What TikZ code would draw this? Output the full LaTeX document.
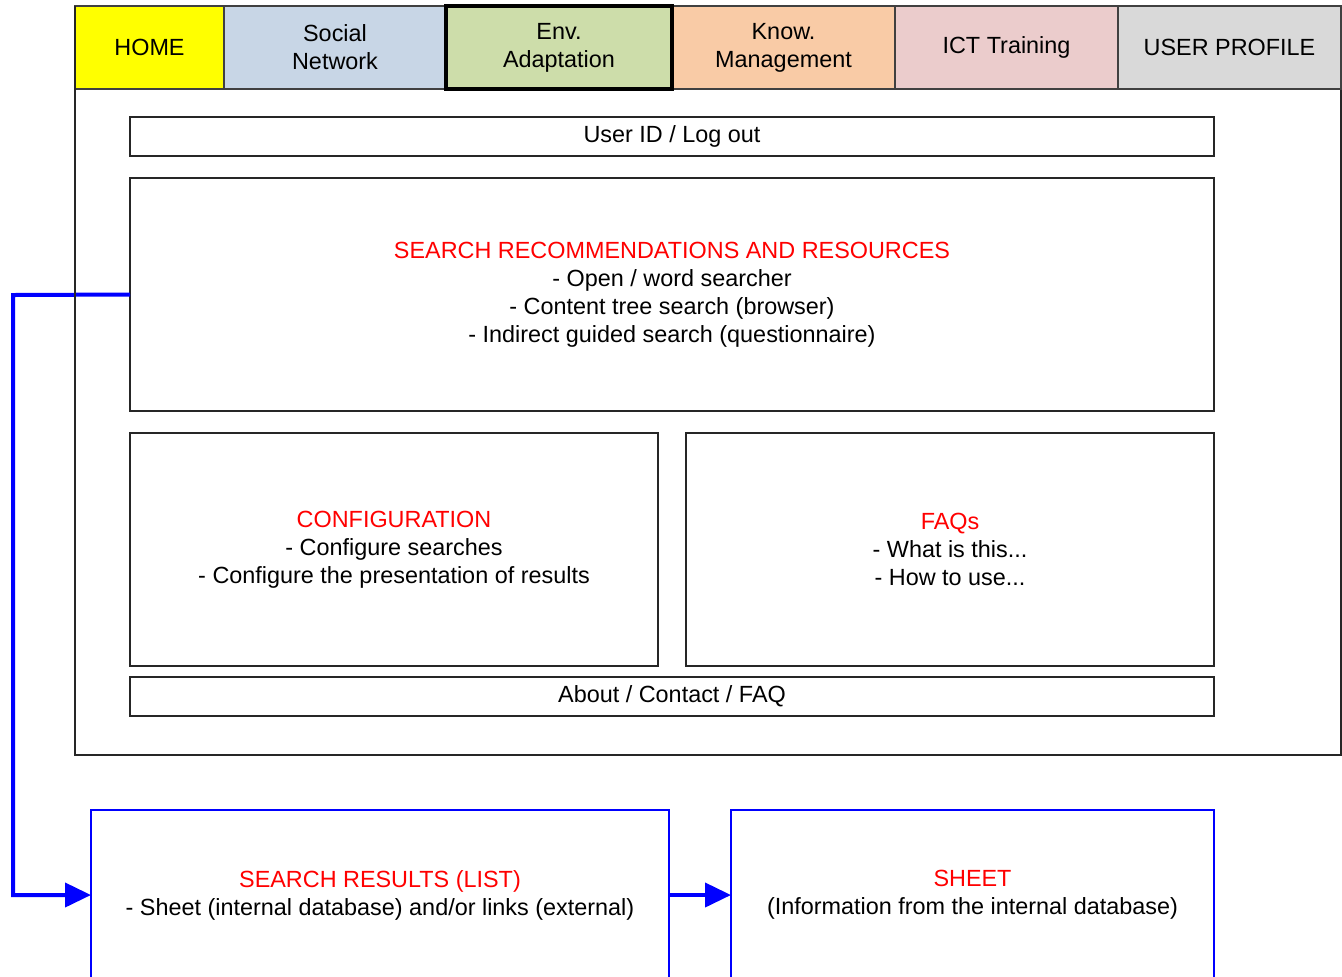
\documentclass[tikz,border=0pt]{standalone}
\usepackage{xcolor}
\usepackage{fontspec}
\setmainfont{Liberation Sans}
\usepackage{tikz}
\usetikzlibrary{positioning,arrows.meta}

\definecolor{homeyellow}{HTML}{FFFF00}
\definecolor{socialblue}{HTML}{C8D6E6}
\definecolor{envgreen}{HTML}{CDDDAA}
\definecolor{knoworange}{HTML}{F9CBA6}
\definecolor{ictpink}{HTML}{EBCCCC}
\definecolor{profilegray}{HTML}{D9D9D9}
\definecolor{linkblue}{HTML}{0000FF}

\newcommand{\heading}[1]{\textcolor{red}{#1}}

\tikzset{
  tab/.style={draw=black!75, line width=0.6pt, outer sep=0pt, inner sep=0pt,
              minimum height=41.5pt, align=center, anchor=north west},
  panel/.style={draw=black!85, line width=0.6pt, outer sep=0pt, inner sep=0pt,
                align=center, anchor=north west},
  result/.style={draw=linkblue, line width=0.6pt, outer sep=0pt, inner sep=0pt,
                 align=center, anchor=north west},
  link/.style={draw=linkblue, line width=2pt, -{Triangle[length=13pt,width=12pt]}},
}

\begin{document}
\begin{tikzpicture}[x=0.5pt, y=-0.5pt, font=\fontsize{11.7}{14}\selectfont]
    \useasboundingbox (0,0) rectangle (1342,976);

    % main window
    \node[panel, minimum width=633pt, minimum height=374.5pt] (frame) at (75,6) {};

    % menu tabs
    \node[tab, fill=homeyellow, minimum width=74.5pt] (home) at (75,6) {HOME};
    \node[tab, fill=socialblue, minimum width=111pt, right=0pt of home] (social) {Social\\Network};
    \node[tab, fill=envgreen, minimum width=113pt, right=0pt of social] (env) {Env.\\Adaptation};
    \node[tab, fill=knoworange, minimum width=111.5pt, right=0pt of env] (know) {Know.\\Management};
    \node[tab, fill=ictpink, minimum width=111.5pt, right=0pt of know] (ict) {ICT Training};
    \node[tab, fill=profilegray, minimum width=111.5pt, right=0pt of ict] (profile) {USER PROFILE};
    \draw[line width=2pt] (env.south west) rectangle (env.north east);

    % page content
    \node[panel, minimum width=542pt, minimum height=19.5pt] (userid) at (130,117) {User ID / Log out};
    \node[panel, minimum width=542pt, minimum height=116.5pt, below=11pt of userid] (search)
        {\heading{SEARCH RECOMMENDATIONS AND RESOURCES}\\- Open / word searcher\\- Content tree search (browser)\\- Indirect guided search (questionnaire)};
    \node[panel, minimum width=264pt, minimum height=116.5pt, below=11pt of search.south west, anchor=north west] (config)
        {\heading{CONFIGURATION}\\- Configure searches\\- Configure the presentation of results};
    \node[panel, minimum width=264pt, minimum height=116.5pt, right=14pt of config] (faqs)
        {\heading{FAQs}\\- What is this...\\- How to use...};
    \node[panel, minimum width=542pt, minimum height=19.5pt, below=5.5pt of config.south west, anchor=north west] (about) {About / Contact / FAQ};

    % result pages (cut off at the bottom)
    \node[result, minimum width=289pt, minimum height=85pt] (results) at (91,810)
        {\heading{SEARCH RESULTS (LIST)}\\- Sheet (internal database) and/or links (external)};
    \node[result, minimum width=241.5pt, minimum height=85pt] (sheet) at (731,810)
        {\heading{SHEET}\\(Information from the internal database)};

    \coordinate (bend) at (13,295);
    \draw[link] (search.west) -- (bend) |- (results.west);
    \draw[link] (results.east) -- (sheet.west);
    \draw[draw=black!85, line width=0.6pt] (frame.north west) -- (frame.south west);
\end{tikzpicture}
\end{document}
